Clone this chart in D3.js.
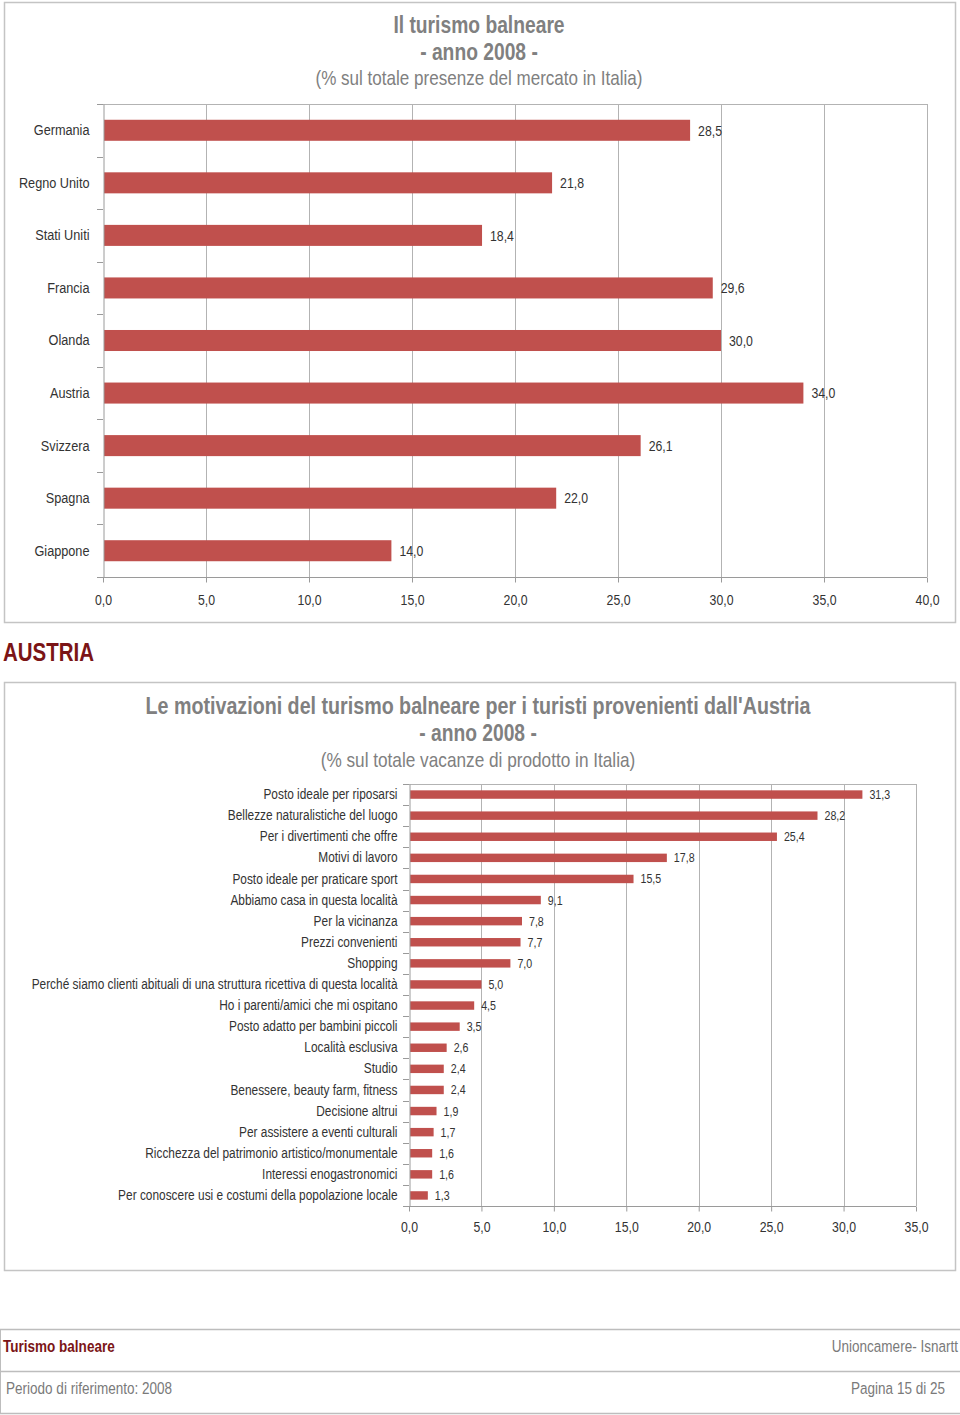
<!DOCTYPE html>
<html>
<head>
<meta charset="utf-8">
<script src="https://cdn.jsdelivr.net/npm/d3@7/dist/d3.min.js"></script>
<style>
  html, body { margin: 0; padding: 0; background: #ffffff; }
  svg { display: block; }
  text { font-family: "Liberation Sans", Arial, sans-serif; }
</style>
</head>
<body>
<svg id="page" width="960" height="1415"></svg>
<script>
// ---------------- DATA ----------------
const countries = ["Germania", "Regno Unito", "Stati Uniti", "Francia", "Olanda", "Austria", "Svizzera", "Spagna", "Giappone"];
const countryValues = [28.5, 21.8, 18.4, 29.6, 30.0, 34.0, 26.1, 22.0, 14.0];
const countryTicks = [0, 5, 10, 15, 20, 25, 30, 35, 40];
const chart1Title = ["Il turismo balneare", "- anno 2008 -", "(% sul totale presenze del mercato in Italia)"];

const motivations = [
  "Posto ideale per riposarsi",
  "Bellezze naturalistiche del luogo",
  "Per i divertimenti che offre",
  "Motivi di lavoro",
  "Posto ideale per praticare sport",
  "Abbiamo casa in questa località",
  "Per la vicinanza",
  "Prezzi convenienti",
  "Shopping",
  "Perché siamo clienti abituali di una struttura ricettiva di questa località",
  "Ho i parenti/amici che mi ospitano",
  "Posto adatto per bambini piccoli",
  "Località esclusiva",
  "Studio",
  "Benessere, beauty farm, fitness",
  "Decisione altrui",
  "Per assistere a eventi culturali",
  "Ricchezza del patrimonio artistico/monumentale",
  "Interessi enogastronomici",
  "Per conoscere usi e costumi della popolazione locale"
];
const motivationValues = [31.3, 28.2, 25.4, 17.8, 15.5, 9.1, 7.8, 7.7, 7.0, 5.0, 4.5, 3.5, 2.6, 2.4, 2.4, 1.9, 1.7, 1.6, 1.6, 1.3];
const motivationTicks = [0, 5, 10, 15, 20, 25, 30, 35];
const chart2Title = ["Le motivazioni del turismo balneare per i turisti provenienti dall'Austria", "- anno 2008 -", "(% sul totale vacanze di prodotto in Italia)"];

const sectionTitle = "AUSTRIA";
const footerTopLeft = "Turismo balneare";
const footerTopRight = "Unioncamere- Isnartt";
const footerBottomLeft = "Periodo di riferimento: 2008";
const footerBottomRight = "Pagina 15 di 25";

// ---------------- STYLE ----------------
const BAR = "#C0504D";
const GRID = "#b3b3b3";
const AXIS = "#9a9a9a";
const TXT = "#333333";
const TITLE = "#808080";
const DARKRED = "#7b1416";
const NARROW = 0.82; // emulate a narrow (condensed) typeface
const fmt = v => d3.format(".1f")(v).replace(".", ",");

const svg = d3.select("#page");

function drawChart(cfg) {
  const g = svg.append("g");
  g.append("rect")
    .attr("x", cfg.box[0] + 0.5).attr("y", cfg.box[1] + 0.5)
    .attr("width", cfg.box[2] - cfg.box[0]).attr("height", cfg.box[3] - cfg.box[1])
    .attr("fill", "#fff").attr("stroke", "#c4c4c4").attr("stroke-width", 1.5);

  cfg.title.forEach((t, i) => {
    g.append("text")
      .attr("x", cfg.titleX).attr("y", cfg.titleY[i])
      .attr("text-anchor", "middle")
      .attr("font-size", cfg.titleSize[i])
      .attr("font-weight", i < 2 ? "bold" : "normal")
      .attr("fill", TITLE)
      .text(t);
  });

  const x = d3.scaleLinear().domain([cfg.ticks[0], cfg.ticks[cfg.ticks.length - 1]]).range([cfg.x0, cfg.x1]);
  const y = d3.scaleBand().domain(cfg.cats).range([cfg.y0, cfg.y1]).paddingInner(cfg.pad).paddingOuter(cfg.pad / 2);

  g.append("line")
    .attr("x1", cfg.x0).attr("x2", cfg.x1).attr("y1", cfg.y0 + 0.5).attr("y2", cfg.y0 + 0.5)
    .attr("stroke", GRID);

  g.append("g").selectAll("line").data(cfg.ticks.slice(1)).join("line")
    .attr("x1", d => Math.round(x(d)) + 0.5).attr("x2", d => Math.round(x(d)) + 0.5)
    .attr("y1", cfg.y0).attr("y2", cfg.y1)
    .attr("stroke", GRID);

  const vals = cfg.cats.map((c, i) => ({ c, v: cfg.values[i] }));
  g.append("g").selectAll("rect").data(vals).join("rect")
    .attr("x", x(0) + 1).attr("y", d => y(d.c))
    .attr("width", d => x(d.v) - x(0) - 1).attr("height", y.bandwidth())
    .attr("fill", BAR);

  g.append("g").selectAll("text").data(vals).join("text")
    .attr("x", d => x(d.v) + cfg.labelGap).attr("y", d => y(d.c) + y.bandwidth() / 2)
    .attr("dy", "0.35em")
    .attr("font-size", cfg.valueSize).attr("fill", TXT)
    .text(d => fmt(d.v));

  const xa = g.append("g").attr("transform", `translate(0,${cfg.y1 + 0.5})`)
    .call(d3.axisBottom(x).tickValues(cfg.ticks).tickFormat(fmt).tickSize(5).tickPadding(cfg.tickPad).tickSizeOuter(0));
  xa.select(".domain").attr("stroke", AXIS).attr("d", `M${cfg.x0 - 6},0H${cfg.x1}`);
  xa.selectAll(".tick line").attr("stroke", AXIS);
  xa.selectAll(".tick text").attr("font-size", cfg.tickSize).attr("fill", TXT)
    .style("font-family", '"Liberation Sans", Arial, sans-serif');

  const ya = g.append("g").attr("transform", `translate(${cfg.x0 + 0.5},0)`)
    .call(d3.axisLeft(y).tickSize(0).tickPadding(cfg.catPad));
  ya.select(".domain").attr("stroke", AXIS);
  ya.selectAll(".tick text").attr("font-size", cfg.catSize).attr("fill", TXT)
    .style("font-family", '"Liberation Sans", Arial, sans-serif');

  const step = y.step();
  const bounds = d3.range(cfg.cats.length + 1).map(i => cfg.y0 + i * step);
  g.append("g").selectAll("line").data(bounds).join("line")
    .attr("x1", cfg.x0 - 6).attr("x2", cfg.x0)
    .attr("y1", d => Math.round(d) + 0.5).attr("y2", d => Math.round(d) + 0.5)
    .attr("stroke", AXIS);
}

drawChart({
  box: [4, 2, 955, 622],
  title: chart1Title, titleX: 479, titleY: [33, 60, 85], titleSize: [23.5, 23.5, 20.8],
  cats: countries, values: countryValues, ticks: countryTicks,
  x0: 103, x1: 927, y0: 104, y1: 577, pad: 0.6,
  labelGap: 8, valueSize: 15, tickSize: 15, tickPad: 12, catSize: 15.5, catPad: 14
});

drawChart({
  box: [4, 682, 955, 1270],
  title: chart2Title, titleX: 478, titleY: [714, 741, 767], titleSize: [24, 23.5, 21],
  cats: motivations, values: motivationValues, ticks: motivationTicks,
  x0: 409, x1: 916, y0: 784, y1: 1206, pad: 0.6,
  labelGap: 7, valueSize: 13, tickSize: 15, tickPad: 10, catSize: 14.5, catPad: 12
});

svg.append("text").attr("x", 3).attr("y", 661)
  .attr("font-size", 25).attr("font-weight", "bold").attr("fill", DARKRED)
  .text(sectionTitle);

[1329, 1371, 1413].forEach(yy => {
  svg.append("line").attr("x1", 0).attr("x2", 960).attr("y1", yy + 0.5).attr("y2", yy + 0.5)
    .attr("stroke", "#bdbdbd").attr("stroke-width", 1.5);
});
svg.append("line").attr("x1", 0.5).attr("x2", 0.5).attr("y1", 1329).attr("y2", 1413).attr("stroke", "#bdbdbd");
svg.append("text").attr("x", 3).attr("y", 1352).attr("font-size", 16.5).attr("font-weight", "bold")
  .attr("fill", DARKRED).text(footerTopLeft);
svg.append("text").attr("x", 958).attr("y", 1352).attr("font-size", 16.5).attr("text-anchor", "end")
  .attr("fill", "#7a7a7a").text(footerTopRight);
svg.append("text").attr("x", 6).attr("y", 1394).attr("font-size", 16.5)
  .attr("fill", "#7a7a7a").text(footerBottomLeft);
svg.append("text").attr("x", 945).attr("y", 1394).attr("font-size", 16.5).attr("text-anchor", "end")
  .attr("fill", "#7a7a7a").text(footerBottomRight);

// Horizontally condense every text around its anchor x (narrow typeface look)
svg.selectAll("text").each(function () {
  const t = d3.select(this);
  const ax = +t.attr("x") || 0;
  const prev = t.attr("transform") || "";
  t.attr("transform", `${prev} translate(${ax},0) scale(${NARROW},1) translate(${-ax},0)`);
});
</script>
</body>
</html>
